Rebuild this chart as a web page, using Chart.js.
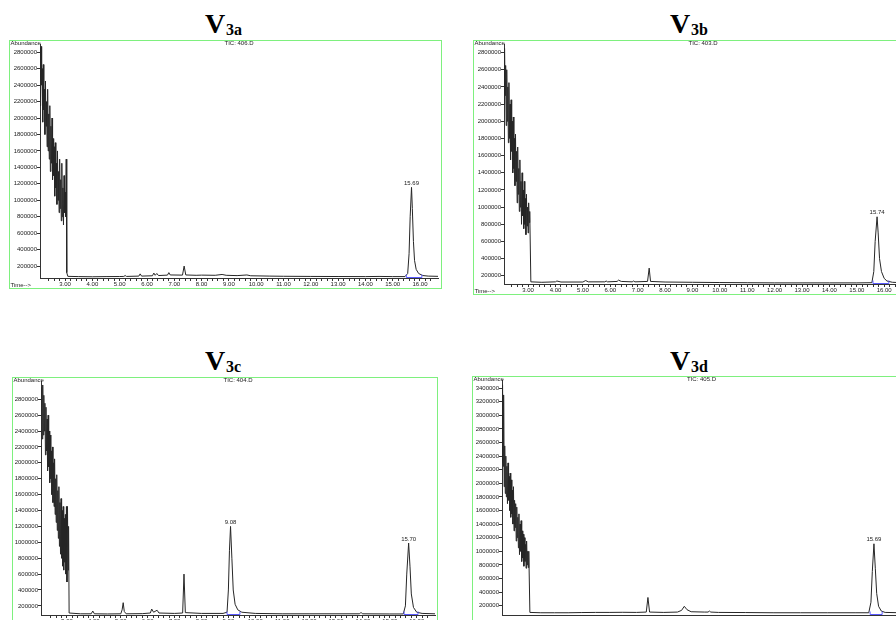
<!DOCTYPE html>
<html>
<head>
<meta charset="utf-8">
<script src="https://cdn.jsdelivr.net/npm/chart.js@4.4.1/dist/chart.umd.min.js"></script>
<style>
  html, body { margin:0; padding:0; background:#fff; }
  body { width:896px; height:620px; overflow:hidden; position:relative; }
  .box { position:absolute; box-sizing:border-box; border:1px solid #7ef07e; }
  canvas.ch { position:absolute; }
  .ttl { position:absolute; font-family:"Liberation Serif","Times New Roman",serif; font-weight:bold; color:#000; white-space:nowrap; }
  .big { font-size:28px; line-height:28px; }
  .sub { font-size:16px; line-height:16px; }
</style>
</head>
<body>
<div class="ttl big" style="left:205px;top:10px">V</div><div class="ttl sub" style="left:226px;top:22px">3a</div>
<div class="ttl big" style="left:670px;top:10px">V</div><div class="ttl sub" style="left:691px;top:22px">3b</div>
<div class="ttl big" style="left:205px;top:347px">V</div><div class="ttl sub" style="left:226px;top:359px">3c</div>
<div class="ttl big" style="left:670px;top:347px">V</div><div class="ttl sub" style="left:691px;top:359px">3d</div>

<div class="box" style="left:9px;top:40px;width:433px;height:249px"></div>
<div class="box" style="left:473px;top:40px;width:433px;height:255px"></div>
<div class="box" style="left:12px;top:377px;width:426px;height:260px"></div>
<div class="box" style="left:472px;top:376px;width:433px;height:260px"></div>

<canvas id="cA" class="ch" width="432" height="252" style="left:9px;top:40px"></canvas>
<canvas id="cB" class="ch" width="432" height="258" style="left:473px;top:40px"></canvas>
<canvas id="cC" class="ch" width="425" height="250" style="left:12px;top:377px"></canvas>
<canvas id="cD" class="ch" width="432" height="251" style="left:472px;top:376px"></canvas>

<script>
// ---------- DATA (abundance values in thousands) ----------
const UNIT = 1000;
const xMajor = [3,4,5,6,7,8,9,10,11,12,13,14,15,16];
const yTicks28 = [200000,400000,600000,800000,1000000,1200000,1400000,1600000,1800000,2000000,2200000,2400000,2600000,2800000];
const yTicks34 = [200000,400000,600000,800000,1000000,1200000,1400000,1600000,1800000,2000000,2200000,2400000,2600000,2800000,3000000,3200000,3400000];

// sample times of the solvent-front noise region (min)
const noiseTimes = [2.06,2.08,2.10,2.12,2.14,2.16,2.18,2.20,2.22,2.24,2.26,2.28,2.30,2.32,2.34,2.36,2.38,2.40,2.42,2.44,2.46,2.48,2.50,2.52,2.54,2.56,2.58,2.60,2.62,2.64,2.66,2.68,2.70,2.72,2.74,2.76,2.78,2.80,2.82,2.84,2.86,2.88,2.90,2.92,2.94,2.96,2.98,3.00,3.02,3.04,3.06];

// V3a  (TIC: 406.D)
const noiseA = [2300,2850,2150,2870,2400,2600,1950,2650,2100,2350,1800,2450,1900,2200,1650,2350,1600,2050,1500,2150,1350,1900,1450,2000,1250,1750,1300,1650,1050,1700,1150,1450,950,1600,1000,1350,850,1500,900,1250,750,1450,800,1150,700,1300,850,1100,800,1500,120];
const timesA = [3.10,3.5,4.0,4.5,5.0,5.15,5.2,5.25,5.7,5.75,5.8,6.2,6.25,6.3,6.36,6.42,6.75,6.8,6.85,7.3,7.36,7.42,7.8,8.0,8.5,8.75,8.9,9.3,9.66,9.8,10.5,11,12,13,14,14.5,15,15.45,15.55,15.6,15.64,15.69,15.72,15.76,15.80,15.86,15.95,16.1,16.3,16.66];
const valuesA = [75,72,70,72,73,74,85,74,78,105,78,82,115,88,110,85,90,120,92,90,200,92,88,90,88,98,88,84,92,82,78,76,74,73,72,74,72,72,110,350,800,1157,900,500,270,160,110,85,78,75];
const peaksA = [{t:15.69, h:1157, label:'15.69'}];
const integA = [{t0:15.50, t1:16.07, lvl:60}];

// V3b  (TIC: 403.D)
const noiseB = [2800,2300,2870,2200,2850,2300,2650,1950,2600,2000,2400,1750,2450,1800,2200,1550,2250,1650,2000,1400,2050,1450,1800,1250,1850,1300,1650,1050,1700,1150,1450,950,1550,1000,1300,800,1400,900,1200,750,1300,800,1100,680,1150,780,1000,700,1050,820,950];
const timesB = [3.10,3.5,4.0,4.05,4.2,5.0,5.1,5.2,5.8,5.85,5.9,6.25,6.3,6.4,6.8,6.85,6.9,7.36,7.42,7.47,8.0,9,10,11,12,13,14,15,15.55,15.62,15.67,15.74,15.78,15.83,15.9,16.0,16.1,16.3,16.65];
const valuesB = [130,125,130,140,128,128,145,130,130,140,130,135,150,135,130,140,130,135,290,135,128,125,122,120,118,118,118,118,120,250,600,888,700,400,250,170,140,125,120];
const peaksB = [{t:15.74, h:888, label:'15.74'}];
const integB = [{t0:15.59, t1:16.17, lvl:108}];

// V3c  (TIC: 404.D)
const noiseC = [2950,2300,2980,2350,2850,2400,2750,2100,2700,2150,2550,1900,2600,1950,2400,1750,2350,1800,2150,1600,2200,1500,2000,1450,2050,1350,1800,1250,1850,1150,1650,1050,1700,950,1500,850,1550,800,1400,700,1450,650,1300,750,1350,600,1450,500,1450,650,1200];
const timesC = [3.08,3.5,3.9,3.96,4.02,4.5,5.0,5.05,5.09,5.13,5.2,5.8,6.1,6.15,6.22,6.35,6.42,7.0,7.3,7.35,7.4,8.0,8.8,8.95,9.0,9.04,9.08,9.13,9.18,9.25,9.35,9.5,10,11,12,13,13.88,13.93,13.98,15,15.5,15.58,15.63,15.70,15.75,15.8,15.88,16.0,16.2,16.68];
const valuesC = [110,100,100,135,100,98,100,150,240,130,100,102,110,160,120,145,110,105,110,600,115,105,105,120,400,900,1200,800,400,220,150,120,105,100,100,100,100,118,100,98,98,200,600,990,700,350,180,120,105,100];
const peaksC = [{t:9.08, h:1200, label:'9.08'}, {t:15.70, h:990, label:'15.70'}];
const integC = [{t0:8.95, t1:9.43, lvl:88}, {t0:15.53, t1:16.05, lvl:88}];

// V3d  (TIC: 405.D)
const noiseD = [2500,2300,3450,2250,3300,1950,2550,1850,2400,1800,2250,1700,2300,1750,2100,1600,2150,1500,2050,1550,1900,1400,1950,1300,1750,1350,1700,1150,1650,1200,1500,1050,1550,950,1400,1000,1450,850,1300,900,1250,780,1200,850,1100,750,1150,800,1000,760,1000];
const timesD = [3.10,3.5,4.0,4.5,5.0,5.5,6.0,6.5,7.0,7.36,7.42,7.48,8.0,8.5,8.65,8.75,8.85,9.0,9.5,9.62,9.67,9.72,10,11,12,13,14,15,15.5,15.58,15.63,15.69,15.74,15.79,15.86,15.96,16.1,16.68];
const valuesD = [100,95,95,95,98,100,100,102,100,105,320,105,100,105,130,190,140,110,105,105,120,105,100,98,95,95,95,95,95,250,700,1110,750,380,190,120,100,95];
const peaksD = [{t:15.69, h:1110, label:'15.69'}];
const integD = [{t0:15.55, t1:15.99, lvl:66}];

// ---------- CHART BUILDING ----------
const FONT = '"Liberation Sans", Arial, sans-serif';
const INK = '#222';

const chromPlugin = {
  id: 'chrom',
  afterDatasetsDraw(chart, args, o) {
    const {ctx, chartArea, scales} = chart;
    const x = scales.x, y = scales.y;
    ctx.save();
    ctx.font = '6px ' + FONT;
    ctx.fillStyle = INK;
    ctx.strokeStyle = '#5a5aff';
    ctx.lineWidth = 1;
    o.integ.forEach(s => {
      const x0 = x.getPixelForValue(s.t0), x1 = x.getPixelForValue(s.t1);
      const yy = Math.round(y.getPixelForValue(s.lvl * UNIT)) - 0.5;
      ctx.beginPath();
      ctx.moveTo(x0, yy); ctx.lineTo(x1, yy);
      ctx.moveTo(x0, yy); ctx.lineTo(x0, yy - 3);
      ctx.moveTo(x1, yy); ctx.lineTo(x1, yy - 3);
      ctx.stroke();
    });
    ctx.textAlign = 'center';
    ctx.textBaseline = 'bottom';
    o.peaks.forEach(p => {
      ctx.fillText(p.label, x.getPixelForValue(p.t), y.getPixelForValue(p.h * UNIT) - 1);
    });
    ctx.textBaseline = 'middle';
    ctx.fillText(o.tic, (chartArea.left + chartArea.right) / 2, 3.5);
    ctx.textAlign = 'left';
    ctx.fillText('Abundance', 1.5, 3.5);
    ctx.fillText('Time-->', 1.5, chartArea.bottom + 7);
    ctx.restore();
  }
};

function makeChart(id, cfg) {
  const data = noiseTimes.map((t, i) => ({x: t, y: cfg.noise[i] * UNIT}))
    .concat(cfg.times.map((t, i) => ({x: t, y: cfg.values[i] * UNIT})));
  return new Chart(document.getElementById(id), {
    type: 'line',
    data: { datasets: [{
      data: data,
      borderColor: '#262626',
      borderWidth: 1,
      pointRadius: 0,
      tension: 0,
      fill: false
    }]},
    options: {
      responsive: false,
      animation: false,
      devicePixelRatio: 1,
      layout: { padding: { left: 0, top: cfg.padTop, right: cfg.padRight, bottom: 0 } },
      plugins: {
        legend: { display: false },
        tooltip: { enabled: false },
        chrom: { peaks: cfg.peaks, integ: cfg.integ, tic: cfg.tic }
      },
      scales: {
        x: {
          type: 'linear',
          min: cfg.xmin, max: cfg.xmax,
          border: { display: true, color: '#333', width: 1 },
          grid: { drawOnChartArea: false, drawTicks: true, tickLength: 3, color: '#333' },
          ticks: {
            stepSize: 0.2, autoSkip: false, maxRotation: 0, padding: 0,
            color: INK, font: { size: 6, family: FONT },
            callback: v => {
              const r = Math.round(v);
              return (Math.abs(v - r) < 1e-6 && xMajor.includes(r)) ? r.toFixed(2) : '';
            }
          },
          afterBuildTicks: s => { s.ticks = s.ticks.filter(t => Math.abs(t.value * 5 - Math.round(t.value * 5)) < 1e-6); },
          afterFit: s => { s.height = cfg.xh; }
        },
        y: {
          min: cfg.ymin, max: cfg.ymax,
          border: { display: true, color: '#333', width: 1 },
          grid: { drawOnChartArea: false, drawTicks: true, tickLength: 3, color: '#333' },
          ticks: {
            autoSkip: false, padding: 0,
            color: INK, font: { size: 6, family: FONT },
            callback: v => String(v)
          },
          afterBuildTicks: s => { s.ticks = cfg.yTicks.map(v => ({value: v})); },
          afterFit: s => { s.width = cfg.yw; }
        }
      }
    },
    plugins: [chromPlugin]
  });
}

makeChart('cA', { noise: noiseA, times: timesA, values: valuesA, peaks: peaksA, integ: integA, tic: 'TIC: 406.D', yTicks: yTicks28,
  xmin: 2.08, xmax: 16.66, ymin: 55000, ymax: 2900000, yw: 31, xh: 14, padTop: 4, padRight: 3 });
makeChart('cB', { noise: noiseB, times: timesB, values: valuesB, peaks: peaksB, integ: integB, tic: 'TIC: 403.D', yTicks: yTicks28,
  xmin: 2.12, xmax: 16.65, ymin: 105000, ymax: 2900000, yw: 31, xh: 14, padTop: 4, padRight: 3 });
makeChart('cC', { noise: noiseC, times: timesC, values: valuesC, peaks: peaksC, integ: integC, tic: 'TIC: 404.D', yTicks: yTicks28,
  xmin: 2.035, xmax: 16.68, ymin: 85000, ymax: 3030000, yw: 29, xh: 12, padTop: 4, padRight: 2 });
makeChart('cD', { noise: noiseD, times: timesD, values: valuesD, peaks: peaksD, integ: integD, tic: 'TIC: 405.D', yTicks: yTicks34,
  xmin: 2.08, xmax: 16.68, ymin: 62000, ymax: 3520000, yw: 30, xh: 12, padTop: 4, padRight: 3 });
</script>
</body>
</html>
